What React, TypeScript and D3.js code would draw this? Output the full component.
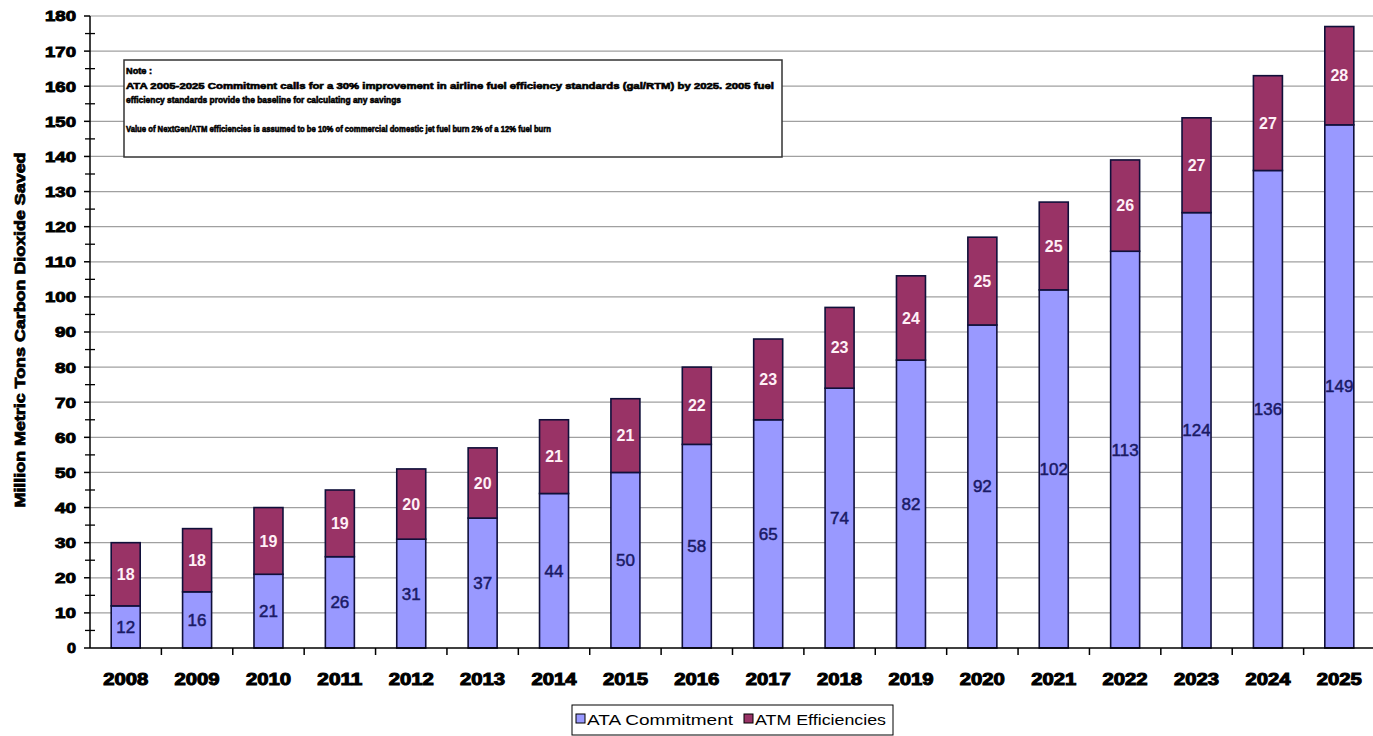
import React from "react";
import * as d3 from "d3";

const years = ["2008","2009","2010","2011","2012","2013","2014","2015","2016","2017","2018","2019","2020","2021","2022","2023","2024","2025"];
const ataCommitment = [12,16,21,26,31,37,44,50,58,65,74,82,92,102,113,124,136,149];
const atmEfficiencies = [18,18,19,19,20,20,21,21,22,23,23,24,25,25,26,27,27,28];
const yTicks = [0,10,20,30,40,50,60,70,80,90,100,110,120,130,140,150,160,170,180];
const seriesNames = ["ATA Commitment", "ATM Efficiencies"];
const noteLines = [
  "Note :",
  "ATA 2005-2025 Commitment calls for a 30% improvement in airline fuel efficiency standards (gal/RTM) by 2025.  2005 fuel",
  "efficiency standards provide the baseline for calculating any savings",
  "",
  "Value of NextGen/ATM efficiencies is assumed to be 10% of commercial domestic jet fuel burn 2% of a 12% fuel burn",
];
const noteWidths = [26, 648, 275, 0, 425];

const W = 1373, H = 736;
const left = 90, right = 1375, top = 16, bottom = 648;
const FONT = "'Liberation Sans', Arial, sans-serif";
const BLUE = "#9999FF", PURPLE = "#993366";

export default function App() {
  const x = d3.scaleBand<string>().domain(years).range([left, right]).paddingInner(0).paddingOuter(0);
  const y = d3.scaleLinear().domain([0, 180]).range([bottom, top]);
  const bw = 29;
  const minor = d3.range(5, 180, 10);
  return (
    <svg width={W} height={H} style={{ position: "absolute", left: 0, top: 0, background: "#fff" }} fontFamily={FONT}>
      <rect x={0} y={0} width={W} height={H} fill="#fff" />
      {yTicks.filter(t => t > 0).map(t => (
        <line key={"g" + t} x1={left} x2={W} y1={y(t)} y2={y(t)} stroke="#a0a0a0" strokeWidth={1.2} />
      ))}
      {/* y axis */}
      <line x1={left} x2={left} y1={top} y2={bottom} stroke="#000" strokeWidth={1.5} />
      {yTicks.map(t => (
        <g key={"yt" + t}>
          <line x1={left - 6} x2={left} y1={y(t)} y2={y(t)} stroke="#000" strokeWidth={1.5} />
          <text x={76} y={y(t)} dy="0.36em" textAnchor="end" fontSize={15} fontWeight={900} fill="#000" stroke="#000" strokeWidth={0.9}
            textLength={t >= 100 ? 31 : t > 0 ? 21 : 9} lengthAdjust="spacingAndGlyphs">{t}</text>
        </g>
      ))}
      {minor.map(t => (
        <line key={"mt" + t} x1={left - 5} x2={left + 5} y1={y(t)} y2={y(t)} stroke="#000" strokeWidth={1.3} />
      ))}
      <text transform={`translate(25,330) rotate(-90)`} textAnchor="middle" fontSize={15} fontWeight={900} fill="#000" stroke="#000" strokeWidth={0.8}
        textLength={355} lengthAdjust="spacingAndGlyphs">Million Metric Tons Carbon Dioxide Saved</text>
      {/* bars */}
      {years.map((yr, i) => {
        const cx = (x(yr) as number) + x.bandwidth() / 2;
        const a = ataCommitment[i], b = atmEfficiencies[i];
        const y0 = y(0), y1 = y(a), y2 = y(a + b);
        return (
          <g key={yr}>
            <rect x={cx - bw / 2} y={y1} width={bw} height={y0 - y1} fill={BLUE} stroke="#10103a" strokeWidth={1.6} />
            <rect x={cx - bw / 2} y={y2} width={bw} height={y1 - y2} fill={PURPLE} stroke="#10103a" strokeWidth={1.6} />
            <text x={cx} y={(y0 + y1) / 2} dy="0.35em" textAnchor="middle" fontSize={17} fontWeight={400} fill="#1a1a66" stroke="#1a1a66" strokeWidth={0.5}>{a}</text>
            <text x={cx} y={(y1 + y2) / 2} dy="0.35em" textAnchor="middle" fontSize={16} fontWeight={700} fill="#fff0f6">{b}</text>
          </g>
        );
      })}
      {/* x axis */}
      <line x1={left} x2={W} y1={bottom} y2={bottom} stroke="#000" strokeWidth={1.5} />
      {years.map(yr => (
        <line key={"xt" + yr} x1={(x(yr) as number) + x.bandwidth()} x2={(x(yr) as number) + x.bandwidth()} y1={bottom} y2={bottom + 7} stroke="#000" strokeWidth={1.5} />
      ))}
      {years.map(yr => (
        <text key={"xl" + yr} x={(x(yr) as number) + x.bandwidth() / 2} y={685} textAnchor="middle" fontSize={16} fontWeight={900} fill="#000" stroke="#000" strokeWidth={1}
          textLength={45} lengthAdjust="spacingAndGlyphs">{yr}</text>
      ))}
      {/* note box */}
      <rect x={124} y={60} width={658} height={97} fill="#fff" stroke="#333" strokeWidth={1.5} />
      {noteLines.map((l, i) => l ? (
        <text key={"n" + i} x={126} y={74 + i * 14.5} fontSize={9} fontWeight={900} fill="#000" stroke="#000" strokeWidth={0.6}
          textLength={noteWidths[i]} lengthAdjust="spacingAndGlyphs">{l}</text>
      ) : null)}
      {/* legend */}
      <rect x={572} y={705} width={321} height={30} fill="#fff" stroke="#000" strokeWidth={1} />
      <rect x={576} y={714} width={9} height={9} fill={BLUE} stroke="#000" strokeWidth={1} />
      <text x={587} y={725} fontSize={14} fill="#000" textLength={146} lengthAdjust="spacingAndGlyphs">{seriesNames[0]}</text>
      <rect x={744} y={714} width={9} height={9} fill={PURPLE} stroke="#000" strokeWidth={1} />
      <text x={755} y={725} fontSize={14} fill="#000" textLength={131} lengthAdjust="spacingAndGlyphs">{seriesNames[1]}</text>
    </svg>
  );
}
